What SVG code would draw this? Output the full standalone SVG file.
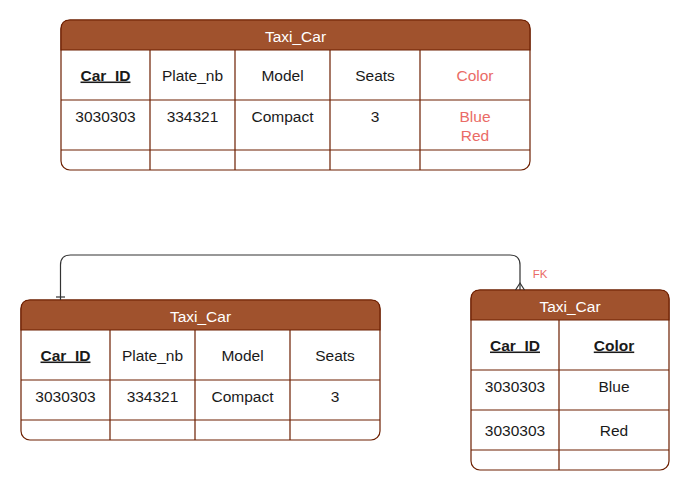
<svg xmlns="http://www.w3.org/2000/svg" width="691" height="492" viewBox="0 0 691 492">
<style>
.box{fill:#ffffff;stroke:#6d1f00;stroke-width:1.2}
.hdr{fill:#a0522d;stroke:#6d1f00;stroke-width:1.2}
.ln{stroke:#6d1f00;stroke-width:1.2;fill:none}
text{font-family:"Liberation Sans",Arial,sans-serif;font-size:15.5px;text-anchor:middle;fill:#1a1a1a}
.ht{fill:#ffffff}
.pk{fill:#ea6b66}
.b{font-weight:bold;text-decoration:underline}
.con{stroke:#333333;stroke-width:1.2;fill:none}
</style>
<rect width="691" height="492" fill="#ffffff"/>
<g id="top_table">
<rect class="box" x="61" y="20" width="469" height="150" rx="9"/>
<path class="hdr" d="M61 50 V29 Q61 20 70 20 H521 Q530 20 530 29 V50 Z"/>
<path class="ln" d="M61 100 H530 M61 150 H530 M150 50 V170 M235 50 V170 M330 50 V170 M420 50 V170"/>
<text class="ht" x="295.5" y="41.5">Taxi_Car</text>
<text class="b" x="105.5" y="80.5">Car_ID</text>
<text x="192.5" y="80.5">Plate_nb</text>
<text x="282.5" y="80.5">Model</text>
<text x="375" y="80.5">Seats</text>
<text class="pk" x="475" y="80.5">Color</text>
<text x="105.5" y="121.5">3030303</text>
<text x="192.5" y="121.5">334321</text>
<text x="282.5" y="121.5">Compact</text>
<text x="375" y="121.5">3</text>
<text class="pk" x="475" y="121.5">Blue</text>
<text class="pk" x="475" y="140.5">Red</text>
</g>
<g id="left_table">
<rect class="box" x="21" y="300" width="359" height="140" rx="9"/>
<path class="hdr" d="M21 330 V309 Q21 300 30 300 H371 Q380 300 380 309 V330 Z"/>
<path class="ln" d="M21 380 H380 M21 420 H380 M110 330 V440 M195 330 V440 M290 330 V440"/>
<text class="ht" x="200.5" y="321.5">Taxi_Car</text>
<text class="b" x="65.5" y="360.5">Car_ID</text>
<text x="152.5" y="360.5">Plate_nb</text>
<text x="242.5" y="360.5">Model</text>
<text x="335" y="360.5">Seats</text>
<text x="65.5" y="401.5">3030303</text>
<text x="152.5" y="401.5">334321</text>
<text x="242.5" y="401.5">Compact</text>
<text x="335" y="401.5">3</text>
</g>
<g id="right_table">
<rect class="box" x="471" y="290" width="198" height="180" rx="9"/>
<path class="hdr" d="M471 320 V299 Q471 290 480 290 H660 Q669 290 669 299 V320 Z"/>
<path class="ln" d="M471 370 H669 M471 410 H669 M471 450 H669 M559 320 V470"/>
<text class="ht" x="570" y="311.5">Taxi_Car</text>
<text class="b" x="515" y="350.5">Car_ID</text>
<text class="b" x="614" y="350.5">Color</text>
<text x="515" y="391.5">3030303</text>
<text x="614" y="391.5">Blue</text>
<text x="515" y="435.5">3030303</text>
<text x="614" y="435.5">Red</text>
</g>
<g id="connectors">
<path class="con" d="M60.5 300 V265 Q60.5 255 70.5 255 H510 Q520 255 520 265 V290"/>
<path class="con" d="M56 297 H65"/>
<path class="con" d="M515.5 290 L520 283 L524.5 290"/>
<text x="540" y="278" style="font-size:11.5px;fill:#ea6b66">FK</text>
</g>
</svg>
